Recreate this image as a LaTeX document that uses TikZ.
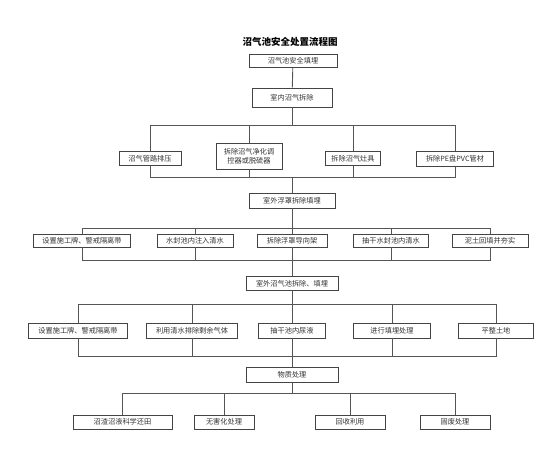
\documentclass[tikz,border=0pt]{standalone}
\usepackage{fontspec}
\setmainfont{Noto Sans CJK SC}
\usepackage{xcolor}
\usepackage{tikz}
\usetikzlibrary{positioning}
\definecolor{boxline}{HTML}{444444}
\definecolor{linkline}{HTML}{555555}
\definecolor{boxtext}{HTML}{333333}

\begin{document}
\begin{tikzpicture}[
  x=1pt,y=-1pt,
  box/.style={draw=boxline,line width=0.9pt,fill=white,text=boxtext,align=center,inner sep=1pt,minimum height=14pt,font=\fontsize{7.2}{9}\selectfont},
  line/.style={draw=linkline,line width=0.9pt}
]
\useasboundingbox (0,0) rectangle (554,449);
\node[font=\bfseries\fontsize{9.5}{11}\selectfont] (title) at (290,42) {沼气池安全处置流程图};
% main steps
\node[box,minimum width=88pt,minimum height=13pt] (s1) at (293,61) {沼气池安全填埋};
\node[box,minimum width=80pt,minimum height=19pt] (s2) at (292,97.5) {室内沼气拆除};
\node[box,minimum width=86pt,minimum height=15pt] (s3) at (292,200.5) {室外浮罩拆除填埋};
\node[box,minimum width=92pt,minimum height=14pt] (s4) at (292,283.5) {室外沼气池拆除、填埋};
\node[box,minimum width=92pt,minimum height=15pt] (s5) at (292,374.5) {物质处理};
% indoor
\node[box,minimum width=62pt] (a1) at (150,158.5) {沼气管路排压};
\node[box,minimum width=66pt,minimum height=26pt] (a2) at (249,156) {拆除沼气净化调\\控器或脱硫器};
\node[box,minimum width=55pt] (a3) at (353,158.5) {拆除沼气灶具};
\node[box,minimum width=77pt,minimum height=15pt] (a4) at (455,159) {拆除PE盘PVC管材};
% floating cover
\node[box,minimum width=97pt,minimum height=13pt] (b1) at (82,240.5) {设置施工牌、警戒隔离带};
\node[box,minimum width=76pt,minimum height=13pt] (b2) at (195,240.5) {水封池内注入清水};
\node[box,minimum width=70pt,minimum height=13pt] (b3) at (292,240.5) {拆除浮罩导向架};
\node[box,minimum width=75pt,minimum height=13pt] (b4) at (391,240.5) {抽干水封池内清水};
\node[box,minimum width=76pt,minimum height=13pt] (b5) at (490,240.5) {泥土回填并夯实};
% outdoor tank
\node[box,minimum width=99pt,minimum height=15pt] (c1) at (78,330.5) {设置施工牌、警戒隔离带};
\node[box,minimum width=91pt,minimum height=15pt] (c2) at (192,330.5) {利用清水排除剩余气体};
\node[box,minimum width=67pt,minimum height=15pt] (c3) at (292,330.5) {抽干池内尿液};
\node[box,minimum width=77pt,minimum height=15pt] (c4) at (392,330.5) {进行填埋处理};
\node[box,minimum width=75pt,minimum height=15pt] (c5) at (496,330.5) {平整土地};
% materials
\node[box,minimum width=99pt] (d1) at (122.5,422) {沼渣沼液科学还田};
\node[box,minimum width=60pt] (d2) at (224,422) {无害化处理};
\node[box,minimum width=70pt] (d3) at (350,422) {回收利用};
\node[box,minimum width=70pt] (d4) at (455,422) {固废处理};
% bus points
\coordinate (t2) at (292,125);
\coordinate (u2) at (292,177);
\coordinate (t3) at (292,228);
\coordinate (u3) at (292,260);
\coordinate (t4) at (292,304);
\coordinate (u4) at (292,356);
\coordinate (t5) at (292,393);
\draw[line] (s1)--(s2);
\draw[line] (s2)--(t2);
\foreach \n in {a1,a2,a3,a4} {
  \draw[line] (\n.north) |- (t2);
  \draw[line] (\n.south) |- (u2);
}
\draw[line] (u2)--(s3);
\draw[line] (s3)--(t3);
\foreach \n in {b1,b2,b3,b4,b5} {
  \draw[line] (\n.north) |- (t3);
  \draw[line] (\n.south) |- (u3);
}
\draw[line] (u3)--(s4);
\draw[line] (s4)--(t4);
\foreach \n in {c1,c2,c3,c4,c5} {
  \draw[line] (\n.north) |- (t4);
  \draw[line] (\n.south) |- (u4);
}
\draw[line] (u4)--(s5);
\draw[line] (s5)--(t5);
\foreach \n in {d1,d2,d3,d4}
  \draw[line] (\n.north) |- (t5);
\end{tikzpicture}
\end{document}
